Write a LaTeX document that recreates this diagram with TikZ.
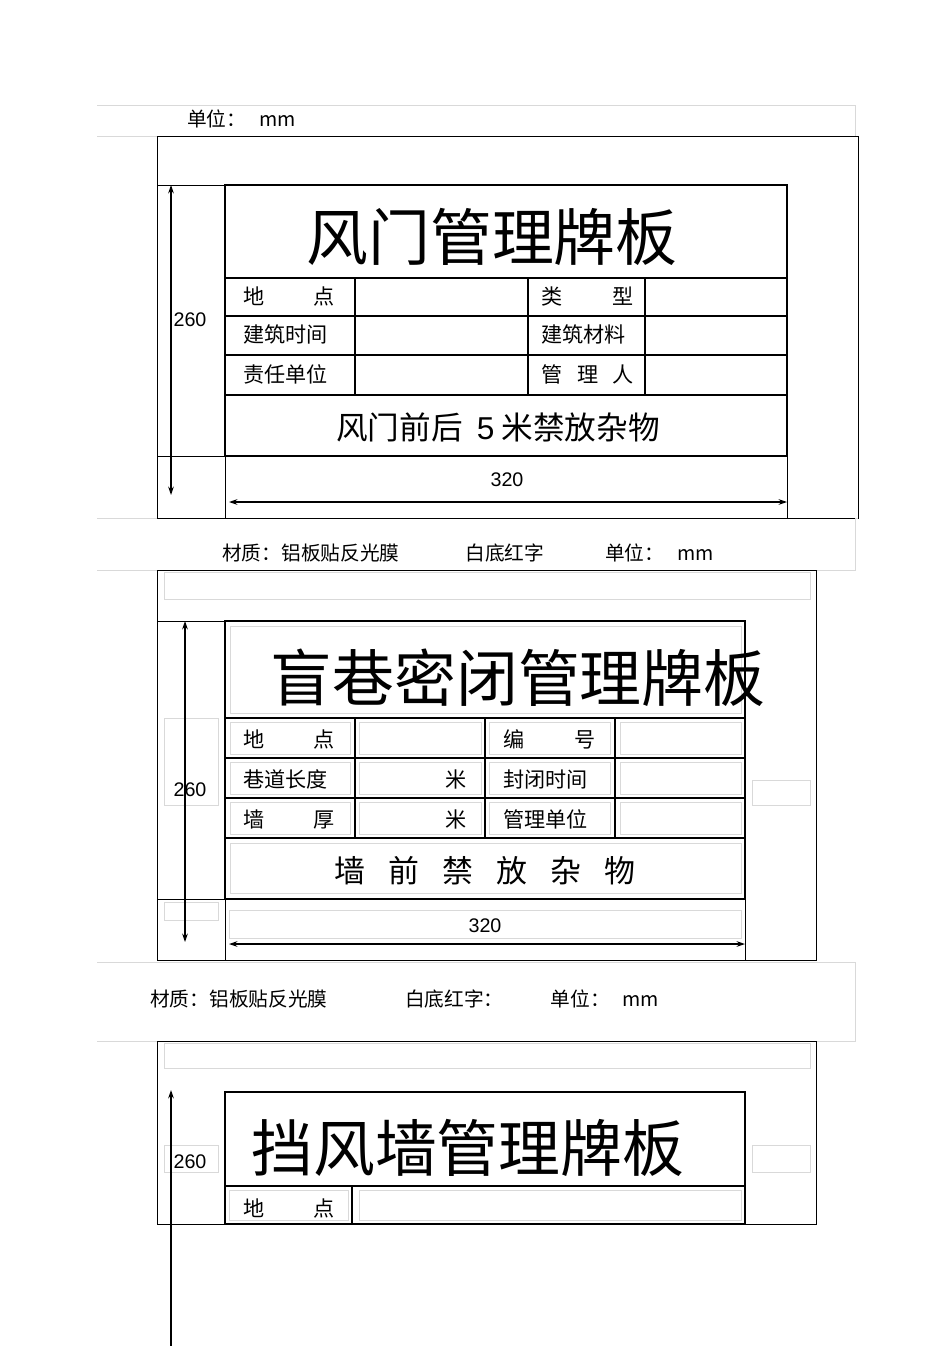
\documentclass[tikz,border=0pt]{standalone}
\usepackage{fontspec}
\setmainfont{Liberation Sans}
\newfontfamily\cjk{Noto Sans CJK SC}[Scale=1]
\usetikzlibrary{arrows.meta}
\begin{document}
\begin{tikzpicture}[x=0.025cm,y=-0.025cm,
  thin line/.style={draw=black,line width=0.6pt},
  sign/.style={draw=black,line width=2pt},
  pale/.style={draw=black!15,line width=0.5pt},
  dim/.style={line width=0.8pt,{Stealth[length=6pt,width=4pt]}-{Stealth[length=6pt,width=4pt]}},
  lbl/.style={anchor=west,inner sep=0pt,font=\cjk\fontsize{15}{15}\selectfont},
  num/.style={inner sep=0pt,font=\fontsize{14}{14}\selectfont},
  title/.style={inner sep=0pt,font=\cjk\fontsize{44}{44}\selectfont},
  unit/.style={anchor=west,inner sep=0pt,font=\cjk\fontsize{14}{14}\selectfont}]
\useasboundingbox (0,0) rectangle (950,1346);
\fill[white] (0,0) rectangle (950,1346);
\newcommand{\cellt}[4]{\pgfmathsetmacro{\cw}{(#2-#1)*0.70866}\node[lbl,text width=\cw pt] at (#1,#3) {#4};}
% ---------- panel 1 ----------
\draw[pale] (97,105) -- (855,105) -- (855,136);
\draw[pale] (97,136) -- (157,136);
\node[unit] (u1) at (187,119) {单位：\hspace{0.65em}mm};
\draw[thin line] (157,136) rectangle (858,518);
\draw[thin line] (157,185) -- (225,185);
\draw[thin line] (157,456) -- (225,456);
\draw[thin line] (225,456) -- (225,518);
\draw[thin line] (787,456) -- (787,518);
\draw[sign] (225,185) rectangle (787,456);
\foreach \y in {278,316,355,395} \draw[sign] (225,\y) -- (787,\y);
\foreach \x in {355,528,645} \draw[sign] (\x,278) -- (\x,395);
\node[title] (t1) at (492,237) {风门管理牌板};
\cellt{243}{335}{296}{地\hfill 点}
\cellt{541}{634}{296}{类\hfill 型}
\cellt{243}{340}{334}{建筑时间}
\cellt{541}{640}{334}{建筑材料}
\cellt{243}{340}{374}{责任单位}
\cellt{541}{634}{374}{管\hfill 理\hfill 人}
\node[inner sep=0pt,font=\cjk\fontsize{22.5}{22.5}\selectfont] (b1) at (498,427) {风门前后\ \ {\rmfamily 5} 米禁放杂物};
\coordinate (a1t) at (171,185); \coordinate (a1b) at (171,495);
\draw[dim] (a1t) -- (a1b);
\node[num] (n1) at (190,320) {260};
\node[num] (m1) at (507,480) {320};
\coordinate (h1l) at (229,502); \coordinate (h1r) at (787,502);
\draw[dim] (h1l) -- (h1r);
\draw[pale] (97,518) -- (157,518); \draw[pale] (858,518) -- (855,518) -- (855,570) -- (816,570);
\draw[pale] (97,570) -- (157,570);
\node[unit] (u2) at (222,553) {材质：铝板贴反光膜\hspace{3.35em}白底红字\hspace{3.1em}单位：\hspace{0.65em}mm};
% ---------- panel 2 ----------
\draw[thin line] (157,570) rectangle (816,960);
\draw[pale] (164,572) rectangle (810,599);
\draw[thin line] (157,621) -- (225,621);
\draw[thin line] (157,899) -- (225,899);
\draw[thin line] (225,899) -- (225,960);
\draw[thin line] (745,899) -- (745,960);
\draw[pale] (164,718) rectangle (218,805);
\draw[pale] (752,780) rectangle (810,805);
\draw[pale] (164,902) rectangle (218,920);
\draw[pale] (229,910) rectangle (741,938);
\draw[sign] (225,621) rectangle (745,899);
\foreach \y in {718,758,798,838} \draw[sign] (225,\y) -- (745,\y);
\draw[sign] (355,718) -- (355,838);
\draw[line width=0.8pt] (485,718) -- (485,758);
\draw[sign] (485,758) -- (485,838);
\draw[sign] (615,718) -- (615,838);
\draw[pale] (230,626) rectangle (741,713);
\foreach \y/\z in {722/754,762/794,802/834} {
  \draw[pale] (230,\y) rectangle (350,\z);
  \draw[pale] (359,\y) rectangle (481,\z);
  \draw[pale] (489,\y) rectangle (610,\z);
  \draw[pale] (620,\y) rectangle (741,\z);
}
\draw[pale] (230,843) rectangle (741,893);
\node[title] (t2) at (518,678) {盲巷密闭管理牌板};
\cellt{243}{335}{739}{地\hfill 点}
\cellt{503}{596}{739}{编\hfill 号}
\cellt{243}{330}{779}{巷道长度}
\cellt{503}{596}{779}{封闭时间}
\cellt{243}{335}{819}{墙\hfill 厚}
\cellt{503}{596}{819}{管理单位}
\node[lbl,anchor=east] at (467,779) {米};
\node[lbl,anchor=east] at (467,819) {米};
\node[inner sep=0pt,font=\cjk\fontsize{22}{22}\selectfont] (b2) at (485,871) {墙\hspace{0.75em}前\hspace{0.75em}禁\hspace{0.75em}放\hspace{0.75em}杂\hspace{0.75em}物};
\coordinate (a2t) at (185,621); \coordinate (a2b) at (185,942);
\draw[dim] (a2t) -- (a2b);
\node[num] (n2) at (190,790) {260};
\node[num] (m2) at (485,926) {320};
\coordinate (h2l) at (229,944); \coordinate (h2r) at (745,944);
\draw[dim] (h2l) -- (h2r);
\draw[pale] (97,962) -- (855,962) -- (855,1041) -- (816,1041);
\draw[pale] (97,1041) -- (157,1041);
\node[unit] (u3) at (150,999) {材质：铝板贴反光膜\hspace{3.95em}白底红字：\hspace{2.4em}单位：\hspace{0.65em}mm};
% ---------- panel 3 ----------
\draw[thin line] (157,1041) rectangle (816,1224);
\draw[pale] (164,1043) rectangle (810,1068);
\draw[pale] (164,1145) rectangle (218,1172);
\draw[pale] (752,1145) rectangle (810,1172);
\draw[sign] (225,1092) rectangle (745,1186);
\draw[sign] (225,1186) -- (225,1224) -- (745,1224) -- (745,1186);
\draw[sign] (352,1186) -- (352,1224);
\draw[pale] (229,1190) rectangle (348,1220);
\draw[pale] (359,1190) rectangle (741,1220);
\node[title,anchor=west] (t3) at (251,1148) {挡风墙管理牌板};
\cellt{243}{335}{1208}{地\hfill 点}
\coordinate (a3t) at (171,1090); \coordinate (a3b) at (171,1346);
\draw[line width=0.8pt,{Stealth[length=6pt,width=4pt]}-] (a3t) -- (a3b);
\node[num] (n3) at (190,1162) {260};
\end{tikzpicture}
\end{document}
